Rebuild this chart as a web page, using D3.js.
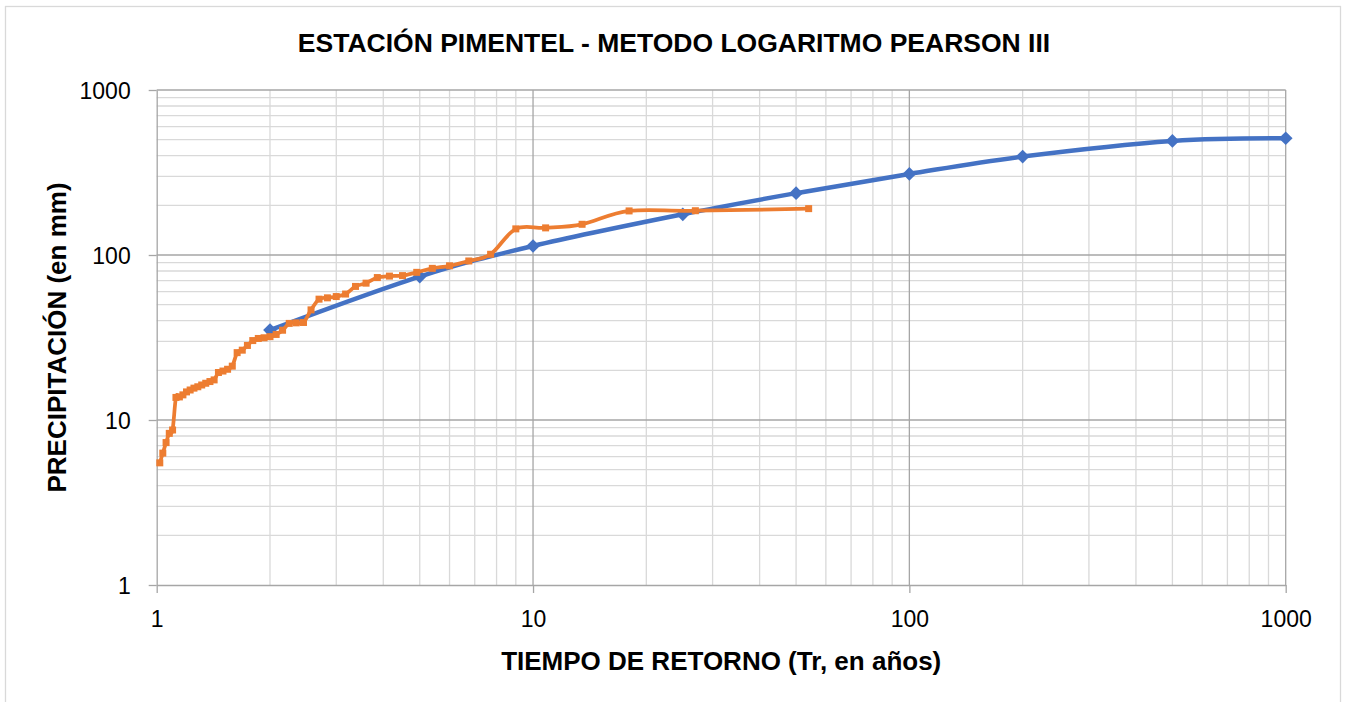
<!DOCTYPE html>
<html>
<head>
<meta charset="utf-8">
<script src="https://cdn.jsdelivr.net/npm/d3@7"></script>
<style>
  body { margin: 0; background: #fff; }
  svg { display: block; font-family: "Liberation Sans", Arial, sans-serif; }
</style>
</head>
<body>
<div id="chart"></div>
<script>
const width = 1346;
const height = 702;

// Data ///////////////////////////////////////////
// theoretical curve (Log Pearson III)
const trTeorico = [2, 5, 10, 25, 50, 100, 200, 500, 1000];
const ppTeorico = [35.1, 74, 113.4, 176.5, 237, 310, 395, 491, 510];

// observed series (Weibull plotting positions)
const trObservado = [54, 27, 18, 13.5, 10.8, 9, 7.714, 6.75, 6, 5.4, 4.909, 4.5, 4.154, 3.857,
  3.6, 3.375, 3.176, 3, 2.842, 2.7, 2.571, 2.455, 2.348, 2.25, 2.16, 2.077, 2, 1.929, 1.862,
  1.8, 1.742, 1.688, 1.636, 1.588, 1.543, 1.5, 1.459, 1.421, 1.385, 1.35, 1.317, 1.286, 1.256,
  1.227, 1.2, 1.174, 1.149, 1.125, 1.102, 1.08, 1.059, 1.038, 1.019];
const ppObservado = [191, 185.5, 185, 153.5, 146, 144, 101, 92, 86, 83, 78.5, 75, 74.5, 73,
  67.5, 64.5, 58, 56, 55, 54, 46.5, 39, 38.8, 38.5, 35, 33, 32, 31.5, 31.2,
  30.3, 28.3, 26.5, 25.6, 21.2, 20.3, 19.8, 19.4, 17.5, 17.1, 16.7, 16.3, 15.9, 15.6,
  15.2, 14.8, 14.2, 13.8, 13.7, 8.7, 8.3, 7.3, 6.3, 5.5];

const majorTicks = [1, 10, 100, 1000];

// Colors /////////////////////////////////////////
const blue = "#4472C4";
const orange = "#ED7D31";
const gridMajor = "#A6A6A6";
const gridMinor = "#D9D9D9";

// Layout /////////////////////////////////////////
const plot = { left: 156.7, right: 1285.7, top: 90, bottom: 585 };

const svg = d3.select("#chart").append("svg")
  .attr("width", width)
  .attr("height", height);

svg.append("rect")
  .attr("x", 5.5).attr("y", 6.5)
  .attr("width", 1335).attr("height", 720)
  .attr("fill", "#fff")
  .attr("stroke", "#D9D9D9")
  .attr("stroke-width", 1.3);

const x = d3.scaleLog().domain([1, 1000]).range([plot.left, plot.right]);
const y = d3.scaleLog().domain([1, 1000]).range([plot.bottom, plot.top]);

// minor values 2..9 per decade
const minors = [];
[1, 10, 100].forEach(d => {
  for (let k = 2; k <= 9; k++) minors.push(d * k);
});

// Gridlines //////////////////////////////////////
const grid = svg.append("g");
grid.selectAll(".vminor").data(minors).enter().append("line")
  .attr("x1", d => x(d)).attr("x2", d => x(d))
  .attr("y1", plot.top).attr("y2", plot.bottom)
  .attr("stroke", gridMinor).attr("stroke-width", 1.3);
grid.selectAll(".hminor").data(minors).enter().append("line")
  .attr("y1", d => y(d)).attr("y2", d => y(d))
  .attr("x1", plot.left).attr("x2", plot.right)
  .attr("stroke", gridMinor).attr("stroke-width", 1.3);
grid.selectAll(".vmajor").data(majorTicks.slice(1)).enter().append("line")
  .attr("x1", d => x(d)).attr("x2", d => x(d))
  .attr("y1", plot.top).attr("y2", plot.bottom)
  .attr("stroke", gridMajor).attr("stroke-width", 1.3);
grid.selectAll(".hmajor").data(majorTicks.slice(1)).enter().append("line")
  .attr("y1", d => y(d)).attr("y2", d => y(d))
  .attr("x1", plot.left).attr("x2", plot.right)
  .attr("stroke", gridMajor).attr("stroke-width", 1.3);

// Axes ///////////////////////////////////////////
const xAxis = d3.axisBottom(x)
  .tickValues(majorTicks)
  .tickFormat(d3.format("d"))
  .tickSizeInner(8).tickSizeOuter(0).tickPadding(18);
const yAxis = d3.axisLeft(y)
  .tickValues(majorTicks)
  .tickFormat(d3.format("d"))
  .tickSizeInner(8).tickSizeOuter(0).tickPadding(18);

const gx = svg.append("g")
  .attr("transform", `translate(0,${plot.bottom})`)
  .call(xAxis);
const gy = svg.append("g")
  .attr("transform", `translate(${plot.left},0)`)
  .call(yAxis);

[gx, gy].forEach(g => {
  g.select(".domain").attr("stroke", gridMajor).attr("stroke-width", 1.3);
  g.selectAll(".tick line").attr("stroke", gridMajor).attr("stroke-width", 1.3);
  g.selectAll(".tick text")
    .attr("fill", "#000")
    .style("font-size", "23px")
    .style("font-family", '"Liberation Sans", Arial, sans-serif');
});
gy.selectAll(".tick text").attr("dy", "0.36em");

// Lines //////////////////////////////////////////
const line = d3.line()
  .x(d => x(d[0]))
  .y(d => y(d[1]))
  .curve(d3.curveCatmullRom.alpha(0));

const teorico = trTeorico.map((t, i) => [t, ppTeorico[i]]);
const observado = trObservado.map((t, i) => [t, ppObservado[i]]);

svg.append("path")
  .datum(teorico)
  .attr("d", line)
  .attr("fill", "none")
  .attr("stroke", blue)
  .attr("stroke-width", 4.5);

svg.selectAll(".diamond").data(teorico).enter().append("path")
  .attr("d", d3.symbol().type(d3.symbolDiamond2).size(120))
  .attr("transform", d => `translate(${x(d[0])},${y(d[1])})`)
  .attr("fill", blue);

svg.append("path")
  .datum(observado)
  .attr("d", line)
  .attr("fill", "none")
  .attr("stroke", orange)
  .attr("stroke-width", 3.75);

svg.selectAll(".square").data(observado).enter().append("rect")
  .attr("x", d => x(d[0]) - 3.5)
  .attr("y", d => y(d[1]) - 3.5)
  .attr("width", 7).attr("height", 7)
  .attr("fill", orange);

// Titles /////////////////////////////////////////
svg.append("text")
  .attr("x", 674).attr("y", 52)
  .attr("text-anchor", "middle")
  .style("font-size", "26.5px").style("font-weight", "bold")
  .text("ESTACIÓN PIMENTEL - METODO LOGARITMO PEARSON III");

svg.append("text")
  .attr("x", (plot.left + plot.right) / 2).attr("y", 670)
  .attr("text-anchor", "middle")
  .style("font-size", "26px").style("font-weight", "bold")
  .text("TIEMPO DE RETORNO (Tr, en años)");

svg.append("text")
  .attr("transform", `translate(66,${(plot.top + plot.bottom) / 2}) rotate(-90)`)
  .attr("text-anchor", "middle")
  .style("font-size", "26px").style("font-weight", "bold")
  .text("PRECIPITACIÓN (en mm)");
</script>
</body>
</html>
